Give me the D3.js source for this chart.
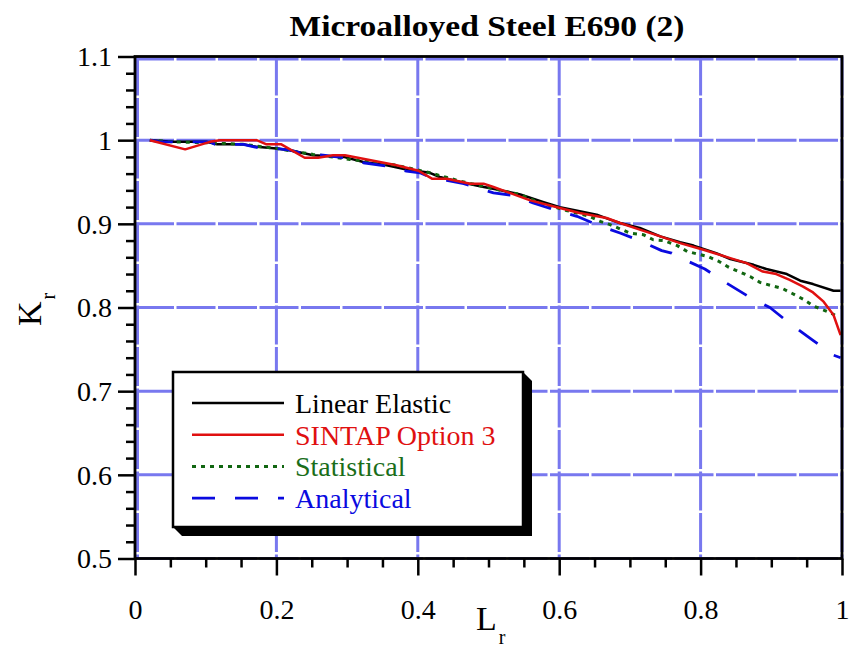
<!DOCTYPE html>
<html>
<head>
<meta charset="utf-8">
<script src="https://cdn.jsdelivr.net/npm/d3@7"></script>
<style>
html,body{margin:0;padding:0;background:#fff;}
svg{display:block;}
svg text{font-family:'Liberation Serif',serif !important;}
</style>
</head>
<body>
<svg id="chart" width="851" height="651"></svg>
<script>
// ---- data ----
const titleText = "Microalloyed Steel E690 (2)";
const seriesNames = ["Linear Elastic", "SINTAP Option 3", "Statistical", "Analytical"];

const xTicks = [0, 0.2, 0.4, 0.6, 0.8, 1];
const xTickLabels = ["0", "0.2", "0.4", "0.6", "0.8", "1"];
const yTicks = [0.5, 0.6, 0.7, 0.8, 0.9, 1.0, 1.1];
const yTickLabels = ["0.5", "0.6", "0.7", "0.8", "0.9", "1", "1.1"];

const linearX = [0.021,0.054,0.101,0.116,0.153,0.172,0.200,0.219,0.252,0.295,0.323,0.356,0.384,0.417,0.431,0.460,0.488,0.512,0.545,0.578,0.601,0.629,0.653,0.672,0.686,0.714,0.743,0.771,0.790,0.804,0.822,0.842,0.875,0.893,0.922,0.941,0.959,0.988,0.998];
const linearY = [1.000,0.998,0.998,0.995,0.995,0.992,0.990,0.988,0.982,0.980,0.974,0.970,0.965,0.961,0.956,0.950,0.945,0.941,0.935,0.926,0.920,0.915,0.911,0.905,0.901,0.895,0.885,0.878,0.874,0.870,0.865,0.858,0.851,0.846,0.840,0.832,0.828,0.820,0.820];

const sintapX = [0.021,0.071,0.106,0.120,0.172,0.186,0.207,0.240,0.259,0.280,0.297,0.370,0.401,0.420,0.441,0.474,0.493,0.507,0.530,0.559,0.601,0.629,0.667,0.686,0.714,0.743,0.771,0.804,0.842,0.865,0.888,0.907,0.926,0.945,0.959,0.974,0.988,0.998];
const sintapY = [1.000,0.989,0.998,1.000,1.000,0.995,0.995,0.979,0.979,0.982,0.982,0.970,0.9635,0.954,0.954,0.948,0.948,0.944,0.937,0.928,0.919,0.913,0.907,0.901,0.893,0.885,0.877,0.869,0.859,0.853,0.843,0.840,0.833,0.825,0.818,0.807,0.791,0.767];

const statX = [0.021,0.054,0.101,0.153,0.200,0.252,0.304,0.370,0.417,0.460,0.512,0.545,0.573,0.610,0.643,0.658,0.672,0.700,0.719,0.733,0.748,0.767,0.781,0.795,0.810,0.826,0.840,0.854,0.870,0.884,0.901,0.915,0.929,0.945,0.959,0.974,0.990];
const statY = [1.000,0.998,0.997,0.995,0.990,0.983,0.977,0.970,0.961,0.951,0.941,0.935,0.925,0.916,0.909,0.903,0.899,0.889,0.887,0.881,0.880,0.874,0.867,0.864,0.861,0.855,0.848,0.843,0.837,0.830,0.826,0.823,0.817,0.810,0.802,0.797,0.791];

const analytX = [0.021,0.036,0.106,0.113,0.153,0.174,0.200,0.219,0.238,0.266,0.295,0.323,0.356,0.384,0.403,0.417,0.441,0.465,0.507,0.535,0.563,0.596,0.625,0.653,0.686,0.714,0.745,0.759,0.775,0.806,0.837,0.868,0.898,0.926,0.957,0.988,0.998];
const analytY = [1.000,0.998,0.998,0.995,0.995,0.991,0.990,0.988,0.984,0.982,0.979,0.973,0.969,0.963,0.961,0.956,0.952,0.948,0.937,0.934,0.925,0.916,0.909,0.899,0.889,0.880,0.868,0.865,0.858,0.846,0.829,0.813,0.800,0.781,0.762,0.743,0.740];

// ---- layout ----
const FONT = "'Liberation Serif', serif";
const svg = d3.select("#chart");
const L = 135, R = 842, T = 56.5, B = 558.5;
const x = d3.scaleLinear().domain([0, 1]).range([L, R]);
const y = d3.scaleLinear().domain([0.5, 1.1]).range([B, T]);

// grid
const grid = svg.append("g");
const gridStyle = s => s.attr("stroke", "#7878ef").attr("stroke-width", 3).attr("stroke-dasharray", "39,2.5");
grid.selectAll("line.gx").data(xTicks).join("line")
  .attr("x1", d => x(d) + (d === 0 ? 2.5 : 0)).attr("x2", d => x(d) + (d === 0 ? 2.5 : 0))
  .attr("y1", T).attr("y2", B).call(gridStyle);
grid.selectAll("line.gy").data(yTicks).join("line")
  .attr("y1", d => y(d) + (d === 1.1 ? 2.5 : 0)).attr("y2", d => y(d) + (d === 1.1 ? 2.5 : 0))
  .attr("x1", L).attr("x2", R).call(gridStyle);

// series
const series = [
  {xs: linearX, ys: linearY, color: "#000000", dash: null, w: 2.5},
  {xs: sintapX, ys: sintapY, color: "#e01010", dash: null, w: 2.5},
  {xs: statX, ys: statY, color: "#116611", dash: "4,5", w: 3},
  {xs: analytX, ys: analytY, color: "#0a0ae0", dash: "23,20", w: 2.8}
];
const line = d3.line().x(d => x(d[0])).y(d => y(d[1]));
const order = [0, 2, 3, 1];
order.forEach(i => {
  const s = series[i];
  svg.append("path")
    .datum(s.xs.map((v, k) => [v, s.ys[k]]))
    .attr("d", line)
    .attr("fill", "none")
    .attr("stroke", s.color)
    .attr("stroke-width", s.w)
    .attr("stroke-linejoin", "round")
    .attr("stroke-dasharray", s.dash);
});

// axes
const yMinor = d3.range(0.5, 1.1001, 0.02).filter(v => !yTicks.some(t => Math.abs(t - v) < 1e-6));
const xMinor = d3.range(0, 1.0001, 0.05).filter(v => !xTicks.some(t => Math.abs(t - v) < 1e-6));

const yAxis = svg.append("g").attr("transform", `translate(${L},0)`)
  .call(d3.axisLeft(y).tickValues(yTicks).tickFormat((d, i) => yTickLabels[i]).tickSize(17).tickPadding(6));
svg.append("g").attr("transform", `translate(${L},0)`)
  .call(d3.axisLeft(y).tickValues(yMinor).tickFormat("").tickSize(9));
const xAxis = svg.append("g").attr("transform", `translate(0,${B})`)
  .call(d3.axisBottom(x).tickValues(xTicks).tickFormat((d, i) => xTickLabels[i]).tickSize(17).tickPadding(24));
svg.append("g").attr("transform", `translate(0,${B})`)
  .call(d3.axisBottom(x).tickValues(xMinor).tickFormat("").tickSize(9));

svg.selectAll("g").attr("font-family", FONT);
svg.selectAll(".tick line").attr("stroke", "#000").attr("stroke-width", 2.5);
svg.selectAll(".domain").remove();
svg.selectAll(".tick text").style("font-family", FONT).attr("font-size", 28).attr("fill", "#000");
yAxis.selectAll(".tick text").attr("dy", "0.33em");

// frame
svg.append("rect").attr("x", L).attr("y", T).attr("width", R - L).attr("height", B - T)
  .attr("fill", "none").attr("stroke", "#000").attr("stroke-width", 2.8);

// title
svg.append("text").attr("x", 487).attr("y", 36).attr("text-anchor", "middle")
  .style("font-family", FONT)
  .attr("font-size", 30).attr("font-weight", "bold")
  .attr("textLength", 395).attr("lengthAdjust", "spacingAndGlyphs")
  .text(titleText);

// axis labels
const xl = svg.append("text").attr("x", 476).attr("y", 630).attr("font-size", 34).style("font-family", FONT);
xl.append("tspan").text("L");
xl.append("tspan").attr("font-size", 20).attr("dx", 2).attr("dy", 14).text("r");

const yl = svg.append("text").attr("transform", "translate(41,326) rotate(-90)").attr("font-size", 34).style("font-family", FONT);
yl.append("tspan").text("K");
yl.append("tspan").attr("font-size", 20).attr("dx", 2).attr("dy", 14).text("r");

// legend
const lg = svg.append("g");
const bx = 173, by = 372, bw = 350, bh = 155, off = 9;
lg.append("polygon")
  .attr("points", [[bx + bw, by], [bx + bw + off, by + off], [bx + bw + off, by + bh + off], [bx + off, by + bh + off], [bx, by + bh]].map(p => p.join(",")).join(" "))
  .attr("fill", "#000");
lg.append("rect").attr("x", bx).attr("y", by).attr("width", bw).attr("height", bh)
  .attr("fill", "#fff").attr("stroke", "#000").attr("stroke-width", 2.5);
const legendText = ["#000000", "#e01010", "#1a6e1a", "#0a0ae0"];
seriesNames.forEach((name, i) => {
  const yy = 403 + i * 31.7;
  const s = series[i];
  lg.append("line").attr("x1", 192).attr("x2", 284).attr("y1", yy).attr("y2", yy)
    .attr("stroke", s.color).attr("stroke-width", s.w).attr("stroke-dasharray", s.dash);
  lg.append("text").attr("x", 295).attr("y", yy + 10).attr("font-size", 28)
    .style("font-family", FONT)
    .attr("fill", legendText[i]).text(name);
});
</script>
</body>
</html>
